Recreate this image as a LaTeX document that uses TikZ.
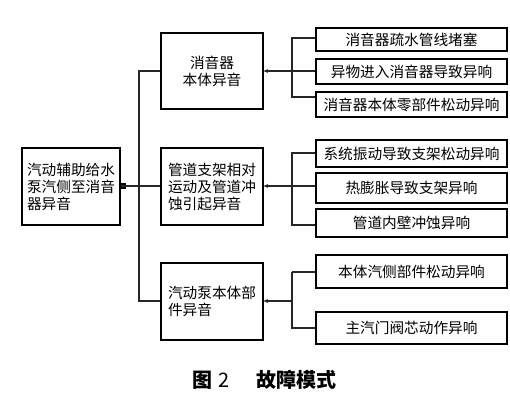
\documentclass[tikz,border=0pt]{standalone}
\usepackage{fontspec}
\setmainfont{Noto Sans CJK SC}
\usetikzlibrary{arrows.meta}
\begin{document}
\begin{tikzpicture}[x=0.75pt,y=-0.75pt,
  box/.style={draw=black,line width=0.8pt,inner sep=0pt,font=\fontsize{11}{12.75}\selectfont},
  lbox/.style={box,minimum width=102*0.75pt,minimum height=77*0.75pt,align=left},
  rbox/.style={box,minimum width=191*0.75pt,align=center},
  conn/.style={draw=black!85,line width=0.8pt},
  arr/.style={conn,-{Stealth[length=3.5pt,width=3pt]}}]
\useasboundingbox (0,0) rectangle (510,401);
% main box
\node[lbox,minimum width=98*0.75pt] (main) at (71,186.5) {汽动辅助给水\\泵汽侧至消音\\器异音};
% middle boxes
\node[lbox,align=center,minimum height=76*0.75pt] (b1) at (212,71) {消音器\\本体异音};
\node[lbox] (b2) at (212,186.5) {管道支架相对\\运动及管道冲\\蚀引起异音};
\node[lbox] (b3) at (212,301.5) {汽动泵本体部\\件异音};
% right boxes
\node[rbox,minimum height=23*0.75pt] (r1) at (411.5,39.5) {消音器疏水管线堵塞};
\node[rbox,minimum height=25*0.75pt] (r2) at (411.5,71.5) {异物进入消音器导致异响};
\node[rbox,minimum height=25*0.75pt] (r3) at (411.5,104.5) {消音器本体零部件松动异响};
\node[rbox,minimum height=27*0.75pt] (r4) at (411.5,153.5) {系统振动导致支架松动异响};
\node[rbox,minimum height=30*0.75pt] (r5) at (411.5,188) {热膨胀导致支架异响};
\node[rbox,minimum height=28*0.75pt] (r6) at (411.5,223) {管道内壁冲蚀异响};
\node[rbox,minimum height=33*0.75pt] (r7) at (411.5,271.5) {本体汽侧部件松动异响};
\node[rbox,minimum height=32*0.75pt] (r8) at (411.5,328) {主汽门阀芯动作异响};
% left tree
\coordinate (t1) at (139,71);
\coordinate (t2) at (139,186);
\coordinate (t3) at (139,301);
\node[fill=black,inner sep=0pt,minimum size=4.5pt] (sq) at (123,186) {};
\draw[conn] (main.east |- t2) -- (b2.west |- t2);
\draw[conn] (b1.west) -- (t1) -- (t3) -- (b3.west |- t3);
% group 1
\coordinate (g1a) at (292,38);
\coordinate (g1b) at (292,97);
\draw[conn] (r1.west |- g1a) -- (g1a) -- (g1b) -- (r3.west |- g1b);
\draw[arr] (r2.west |- b1.east) -- (b1.east);
% group 2
\coordinate (g2a) at (292,153);
\coordinate (g2b) at (292,225);
\draw[conn] (r4.west |- g2a) -- (g2a) -- (g2b) -- (r6.west |- g2b);
\draw[arr] (r5.west |- t2) -- (b2.east |- t2);
% group 3
\coordinate (g3a) at (292,272);
\coordinate (g3b) at (292,328);
\coordinate (g3m) at (292,301);
\draw[conn,line width=1.6pt] (r7.west |- g3a) -- (g3a);
\draw[conn] (g3a) -- (g3b) -- (r8.west |- g3b);
\draw[arr] (g3m) -- (b3.east |- g3m);
% caption
\node[font=\fontsize{15}{18}\selectfont,inner sep=0pt] (cap) at (264.5,380) {\textbf{图}\hspace{5pt}2\hspace{20pt}\textbf{故障模式}};
\end{tikzpicture}
\end{document}
